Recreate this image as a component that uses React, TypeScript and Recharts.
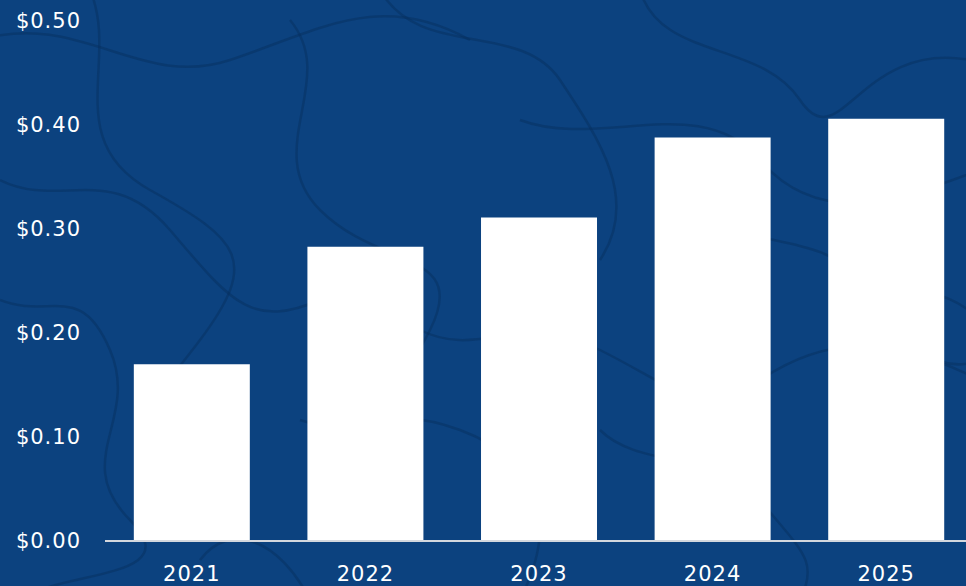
import { Bar, BarChart, XAxis, YAxis } from "recharts"

const years = ["2021", "2022", "2023", "2024", "2025"]
const dividends = [0.17, 0.283, 0.311, 0.388, 0.406]
const yTicks = [0, 0.1, 0.2, 0.3, 0.4, 0.5]

const data = years.map((year, i) => ({ year, value: dividends[i] }))

// rough contour lines for the map-like backdrop
const contours = [
    "M-20 40 C 80 10, 140 90, 230 60 S 380 -10, 470 40",
    "M90 -10 C 120 60, 60 140, 150 190 S 260 260, 200 340 S 120 420, 180 500",
    "M290 20 C 340 80, 260 150, 320 210 S 470 250, 430 330 S 350 420, 420 480",
    "M380 -10 C 420 60, 520 20, 560 80 S 640 200, 600 260",
    "M520 120 C 600 150, 700 90, 760 160 S 900 200, 980 170",
    "M640 -10 C 660 60, 760 40, 800 100 S 860 40, 970 60",
    "M0 180 C 60 210, 110 160, 170 230 S 250 330, 320 300",
    "M0 300 C 50 320, 80 280, 110 350 S 70 460, 130 520 S 60 570, 20 600",
    "M420 330 C 480 360, 520 310, 600 350 S 700 420, 760 380 S 880 330, 980 380",
    "M300 420 C 360 440, 380 400, 460 430 S 560 520, 520 600",
    "M600 430 C 640 470, 720 450, 760 500 S 820 560, 800 600",
    "M860 260 C 900 300, 940 280, 980 320",
    "M700 210 C 740 250, 820 230, 860 280 S 930 380, 980 360",
    "M200 560 C 230 520, 280 540, 310 600",
]

const tickStyle = { fill: "#ffffff", fontSize: 21, fontFamily: "DejaVu Sans", letterSpacing: 1 }

export default function App() {
    return (
        <div
            style={{
                position: "absolute",
                left: 0,
                top: 0,
                width: 966,
                height: 586,
                overflow: "hidden",
                background: "#0c427f",
            }}
        >
            <svg width={966} height={586} style={{ position: "absolute", left: 0, top: 0 }}>
                {contours.map((d, i) => (
                    <path key={i} d={d} fill="none" stroke="#072f5e" strokeWidth={2.5} opacity={0.45} />
                ))}
            </svg>
            <div style={{ position: "absolute", left: 0, top: 0 }}>
                <BarChart
                    width={980}
                    height={586}
                    data={data}
                    margin={{ top: 21, right: 7, bottom: 0, left: 0 }}
                    barCategoryGap="16.6%"
                >
                    <XAxis
                        dataKey="year"
                        height={45}
                        stroke="#d4d7dd"
                        strokeWidth={2}
                        tickLine={false}
                        tickMargin={19}
                        tick={tickStyle}
                    />
                    <YAxis
                        width={105}
                        domain={[0, 0.5]}
                        ticks={yTicks}
                        axisLine={false}
                        tickLine={false}
                        tickMargin={18}
                        tick={tickStyle}
                        tickFormatter={(value) => `$${value.toFixed(2)}`}
                    />
                    <Bar dataKey="value" fill="#ffffff" isAnimationActive={false} />
                </BarChart>
            </div>
        </div>
    )
}
